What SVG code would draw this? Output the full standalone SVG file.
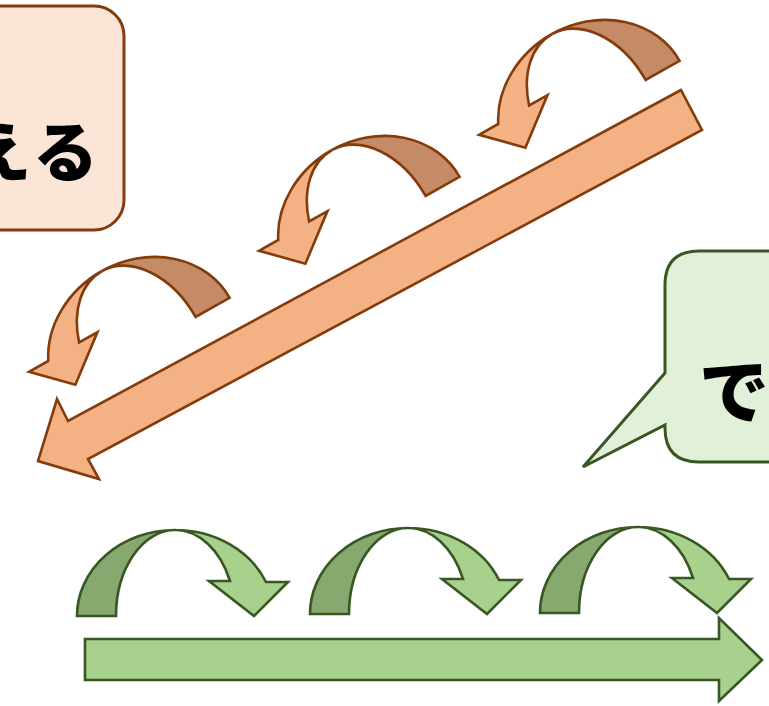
<svg xmlns="http://www.w3.org/2000/svg" xmlns:xlink="http://www.w3.org/1999/xlink" width="769" height="706" viewBox="0 0 769 706">
  <style>
    .o-lt { fill: #F4B183; stroke: #843C0C; stroke-width: 2.6; stroke-linejoin: miter; }
    .o-dk { fill: #C58B66; stroke: #843C0C; stroke-width: 2.6; }
    .g-lt { fill: #A9D18E; stroke: #385723; stroke-width: 2.6; stroke-linejoin: miter; }
    .g-dk { fill: #87A96F; stroke: #385723; stroke-width: 2.6; }
    .label { font-family: "Noto Sans CJK JP", "Noto Sans CJK SC", sans-serif; font-weight: 900; fill: #000; }
  </style>
  <defs>
    <!-- U-turn arrow: back band (rises from the left) and front band (descends to the head) -->
    <path id="turn-back" d="M -98,86 A 98 86 0 0 1 0,0 A 59 86 0 0 0 -59,86 Z"/>
    <path id="turn-front" d="M 0,0 A 99 86 0 0 1 91,52 L 113,52 L 79,86 L 34,51 L 55,51 A 60 86 0 0 0 0,0 Z"/>
  </defs>
  <rect width="769" height="706" fill="#FFFFFF"/>

  <!-- orange callout box -->
  <g id="box-orange">
    <rect x="-200" y="6" width="324" height="224" rx="30" ry="30" fill="#FBE5D6" stroke="#843C0C" stroke-width="3"/>
    <text class="label" x="-34 33" y="176" font-size="65">える</text>
  </g>

  <!-- green speech bubble -->
  <g id="box-green">
    <path d="M 699,251 L 800,251 L 800,462 L 699,462 Q 665,462 665,428 L 665,425 L 583,467 L 665,373 L 665,285 Q 665,251 699,251 Z" fill="#E2F0D9" stroke="#385723" stroke-width="3" stroke-linejoin="miter"/>
    <text class="label" x="699" y="418" font-size="70">で</text>
  </g>

  <g id="connectors">
    <!-- long diagonal arrow, pointing down-left -->
    <g id="arrow-orange-long">
      <polygon class="o-lt" points="681,90 68,421 57,399 38,461 99,479 88,459 702,130"/>
    </g>
    <!-- small turn arrows along the diagonal -->
    <g id="turn-orange-1" transform="translate(552,34) rotate(-29.4) scale(-1,1)">
      <use xlink:href="#turn-back" class="o-dk"/>
      <use xlink:href="#turn-front" class="o-lt"/>
    </g>
    <g id="turn-orange-2" transform="translate(332,150) rotate(-29.4) scale(-1,1)">
      <use xlink:href="#turn-back" class="o-dk"/>
      <use xlink:href="#turn-front" class="o-lt"/>
    </g>
    <g id="turn-orange-3" transform="translate(102,271) rotate(-29.4) scale(-1,1)">
      <use xlink:href="#turn-back" class="o-dk"/>
      <use xlink:href="#turn-front" class="o-lt"/>
    </g>

    <!-- long horizontal arrow, pointing right -->
    <g id="arrow-green-long">
      <polygon class="g-lt" points="85,639 719,639 719,618 762,660 719,701 719,680 85,680"/>
    </g>
    <!-- small hop arrows above it -->
    <g id="turn-green-1" transform="translate(175,530)">
      <use xlink:href="#turn-back" class="g-dk"/>
      <use xlink:href="#turn-front" class="g-lt"/>
    </g>
    <g id="turn-green-2" transform="translate(408,528)">
      <use xlink:href="#turn-back" class="g-dk"/>
      <use xlink:href="#turn-front" class="g-lt"/>
    </g>
    <g id="turn-green-3" transform="translate(638,527)">
      <use xlink:href="#turn-back" class="g-dk"/>
      <use xlink:href="#turn-front" class="g-lt"/>
    </g>
  </g>
</svg>
